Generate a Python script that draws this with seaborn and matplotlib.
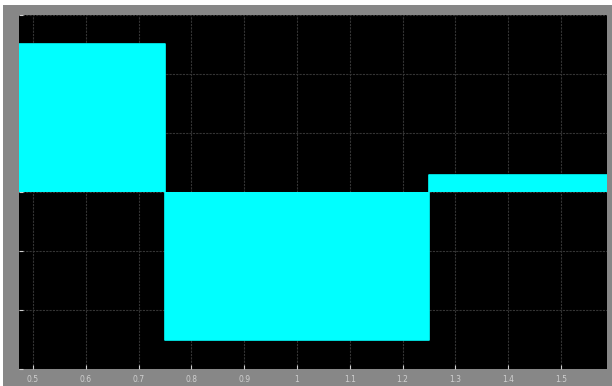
import matplotlib
matplotlib.use("Agg")
import matplotlib.pyplot as plt
from matplotlib.patches import Rectangle
import pandas as pd
import seaborn as sns

# Scope trace: piecewise signal levels between switching instants
seg_edges = [0.4735, 0.75, 1.25, 1.587]
seg_levels = [2.5, -2.5, 0.28]

x_ticks = [0.5, 0.6, 0.7, 0.8, 0.9, 1.0, 1.1, 1.2, 1.3, 1.4, 1.5]
x_tick_labels = ["0.5", "0.6", "0.7", "0.8", "0.9", "1", "1.1", "1.2", "1.3", "1.4", "1.5"]
y_ticks = [-3, -2, -1, 0, 1, 2, 3]

sns.set_theme(style="dark")
plt.rcParams["font.family"] = ["DejaVu Sans"]

fig = plt.figure(figsize=(6.12, 3.86), dpi=100, facecolor="#878787")
# thin white frame along the top and left edges of the window
fig.add_artist(Rectangle((0, 381 / 386), 1, 5 / 386, transform=fig.transFigure,
                         facecolor="white", edgecolor="none", zorder=-1))
fig.add_artist(Rectangle((0, 0), 3 / 612, 1, transform=fig.transFigure,
                         facecolor="white", edgecolor="none", zorder=-1))

ax = fig.add_axes([19 / 612, 17 / 386, 588 / 612, 354 / 386])
ax.set_zorder(2)
ax.set_facecolor("black")

df = pd.DataFrame({"t": seg_edges, "v": seg_levels + [seg_levels[-1]]})
ax.fill_between(df["t"], df["v"], 0, step="post", color="#00ffff", lw=0, zorder=2)
sns.lineplot(data=df, x="t", y="v", drawstyle="steps-post", color="#00ffff",
             lw=1.2, ax=ax, zorder=3)

ax.set_xlim(seg_edges[0], seg_edges[-1])
ax.set_ylim(-3, 3)
ax.set_xticks(x_ticks)
ax.set_xticklabels(x_tick_labels)
ax.set_yticks(y_ticks)
ax.set_yticklabels([])
ax.set_xlabel("")
ax.set_ylabel("")

ax.grid(True, color="#343434", linestyle=(0, (2, 1)), linewidth=0.8, zorder=1)
ax.set_axisbelow(True)
ax.tick_params(axis="both", direction="in", length=3, width=0.8,
               colors="#d0d0d0", labelsize=5.5, pad=4)
ax.tick_params(axis="y", left=True)
ax.tick_params(axis="x", bottom=True)
for s in ax.spines.values():
    s.set_visible(False)

fig.savefig("out.png", dpi=100, facecolor=fig.get_facecolor())
